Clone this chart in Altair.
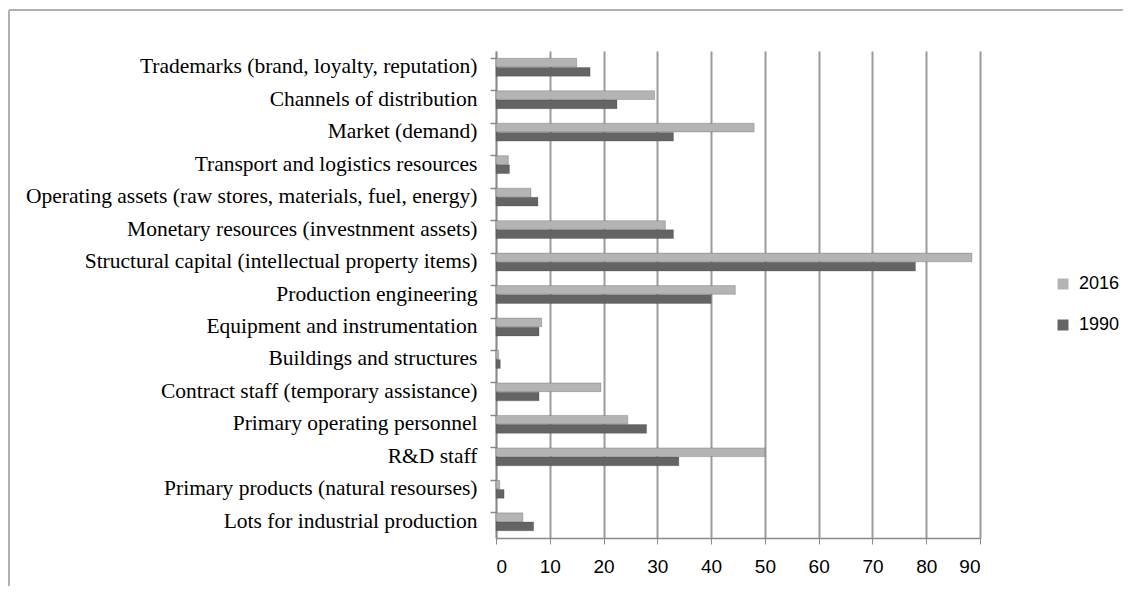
import altair as alt
import pandas as pd

categories = [
    "Trademarks (brand, loyalty, reputation)",
    "Channels of distribution",
    "Market (demand)",
    "Transport and logistics resources",
    "Operating assets (raw stores, materials, fuel, energy)",
    "Monetary resources (investnment assets)",
    "Structural capital (intellectual property items)",
    "Production engineering",
    "Equipment and instrumentation",
    "Buildings and structures",
    "Contract staff (temporary assistance)",
    "Primary operating personnel",
    "R&D staff",
    "Primary products (natural resourses)",
    "Lots for industrial production",
]
values_2016 = [15, 29.5, 48, 2.3, 6.5, 31.5, 88.5, 44.5, 8.5, 0.5, 19.5, 24.5, 50, 0.7, 5]
values_1990 = [17.5, 22.5, 33, 2.5, 7.8, 33, 78, 40, 8, 0.8, 8, 28, 34, 1.5, 7]
series = ["2016", "1990"]
colors = ["#b4b4b4", "#646464"]
x_ticks = [0, 10, 20, 30, 40, 50, 60, 70, 80, 90]

rows = []
for c, a, b in zip(categories, values_2016, values_1990):
    rows.append({"category": c, "year": "2016", "value": a})
    rows.append({"category": c, "year": "1990", "value": b})
df = pd.DataFrame(rows)

yscale = alt.Scale(paddingInner=0.45, paddingOuter=0.225)

bars = alt.Chart(df).mark_bar(stroke="#3a3a3a", strokeWidth=0.5, strokeOpacity=0.5).encode(
    y=alt.Y("category:N", sort=categories, title=None, scale=yscale,
            axis=alt.Axis(labelFont="Liberation Serif", labelFontSize=21.5, labelColor="#000000",
                          labelPadding=19, ticks=False,
                          domainColor="#8a8a8a", domainWidth=1.5, labelLimit=700, grid=False)),
    yOffset=alt.YOffset("year:N", sort=series, scale=alt.Scale(paddingInner=0.05)),
    x=alt.X("value:Q", title=None,
            scale=alt.Scale(domain=[0, 90], nice=False),
            axis=alt.Axis(values=x_ticks, labelFont="Liberation Sans", labelFontSize=19,
                          labelColor="#000000", labelPadding=13, ticks=True, tickSize=6,
                          tickColor="#8a8a8a", domainColor="#8a8a8a", domainWidth=1.5,
                          grid=True, gridColor="#9c9c9c", gridWidth=2)),
    color=alt.Color("year:N", sort=series, title=None,
                    scale=alt.Scale(domain=series, range=colors),
                    legend=alt.Legend(orient="none", legendX=558, legendY=224,
                                      symbolType="square", symbolSize=121, symbolStrokeWidth=0,
                                      labelFont="Liberation Sans", labelFontSize=18,
                                      labelColor="#000000", rowPadding=23, labelOffset=7)),
)

ticks_layer = alt.Chart(df).mark_point(opacity=0).encode(
    y=alt.Y("category:N", sort=categories, title=None, scale=yscale,
            axis=alt.Axis(orient="left", bandPosition=0, labels=False, domain=False,
                          ticks=True, tickSize=6, tickColor="#8a8a8a", tickWidth=1.5,
                          grid=False)),
    x=alt.X("value:Q"),
)

border_left = alt.Chart(df).mark_rule(color="#b0b0b0", strokeWidth=1.5).encode(
    x=alt.value(-487), y=alt.value(-41), y2=alt.value(540)
)
border_top = alt.Chart(df).mark_rule(color="#b0b0b0", strokeWidth=1.5).encode(
    x=alt.value(-487), x2=alt.value(640), y=alt.value(-41)
)

chart = alt.layer(bars, ticks_layer, border_left, border_top).resolve_axis(
    y="independent"
).properties(
    width=484, height=487,
    padding={"left": 488, "top": 43, "right": 143, "bottom": 48},
    autosize=alt.AutoSizeParams(type="none"),
).configure_view(stroke=None)

chart.save("out.html", embed_options={"renderer": "svg", "actions": False})
